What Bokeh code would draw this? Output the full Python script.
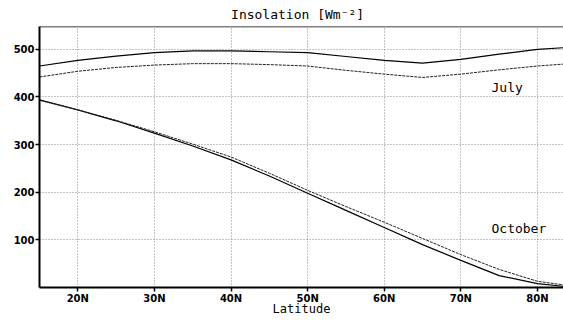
from bokeh.plotting import figure
from bokeh.models import FixedTicker, Span, Label, Range1d, Title
from bokeh.embed import file_html
from bokeh.resources import INLINE

lat = [15, 20, 25, 30, 35, 40, 45, 50, 55, 60, 65, 70, 75, 80, 85]
july_solid = [465, 477, 486, 493, 497, 497, 495, 493, 485, 477, 471, 479, 490, 500, 505]
july_dash = [442, 454, 462, 467, 470, 470, 468, 465, 456, 448, 441, 448, 457, 465, 471]
oct_solid = [394, 373, 350, 324, 297, 268, 234, 198, 162, 126, 90, 57, 25, 8, 0]
oct_dash = [393, 373, 351, 327, 301, 274, 240, 204, 170, 137, 103, 69, 38, 13, 2]

x_ticks = [20, 30, 40, 50, 60, 70, 80]
x_tick_labels = ["20N", "30N", "40N", "50N", "60N", "70N", "80N"]
y_ticks = [100, 200, 300, 400, 500]

W, H = 563, 320
BL, BT, BB = 39, 26, 33

p = figure(width=W, height=H, output_backend="svg", toolbar_location=None,
           x_range=Range1d(15, 83.4), y_range=Range1d(0, 548),
           min_border_left=BL, min_border_right=0, min_border_top=BT, min_border_bottom=BB)
p.title = Title(text="Insolation  [Wm⁻²]", align="center", text_font="DejaVu Sans Mono",
                text_font_size="13px", text_font_style="normal", text_color="black",
                standoff=9, offset=0)
p.outline_line_color = None
p.background_fill_color = "white"
p.border_fill_color = "white"

for ax in (p.xaxis[0], p.yaxis[0]):
    ax.axis_line_width = 2
    ax.axis_line_color = "black"
    ax.major_tick_line_color = "black"
    ax.major_tick_line_width = 1.5
    ax.major_tick_out = 4
    ax.major_tick_in = 0
    ax.minor_tick_line_color = None
    ax.major_label_text_font = "DejaVu Sans"
    ax.major_label_text_font_style = "bold"
    ax.major_label_text_font_size = "10px"
    ax.major_label_text_color = "black"
    ax.major_label_standoff = 1

p.xaxis.ticker = FixedTicker(ticks=x_ticks)
p.xaxis.major_label_overrides = {t: s for t, s in zip(x_ticks, x_tick_labels)}
p.xaxis.axis_label = "Latitude"
p.xaxis.axis_label_text_font = "DejaVu Sans Mono"
p.xaxis.axis_label_text_font_style = "normal"
p.xaxis.axis_label_text_font_size = "12px"
p.xaxis.axis_label_text_color = "black"
p.xaxis.axis_label_standoff = -5
p.yaxis.ticker = FixedTicker(ticks=y_ticks)

p.grid.grid_line_color = "#888888"
p.grid.grid_line_dash = "1 2"
p.grid.grid_line_width = 1

p.add_layout(Span(location=548, dimension="width", line_color="black", line_width=1.5))

p.line(lat, july_solid, line_color="black", line_width=1.2)
p.line(lat, july_dash, line_color="#222222", line_width=1, line_dash="3 1")
p.line(lat, oct_solid, line_color="black", line_width=1.2)
p.line(lat, oct_dash, line_color="#222222", line_width=1, line_dash="3 1")

p.add_layout(Label(x=74, y=419, text="July", text_font="DejaVu Sans Mono", text_font_size="13px",
                   text_align="left", text_baseline="middle", text_color="black"))
p.add_layout(Label(x=74, y=124, text="October", text_font="DejaVu Sans Mono", text_font_size="13px",
                   text_align="left", text_baseline="middle", text_color="black"))

open("out.html", "w").write(file_html(p, INLINE))
